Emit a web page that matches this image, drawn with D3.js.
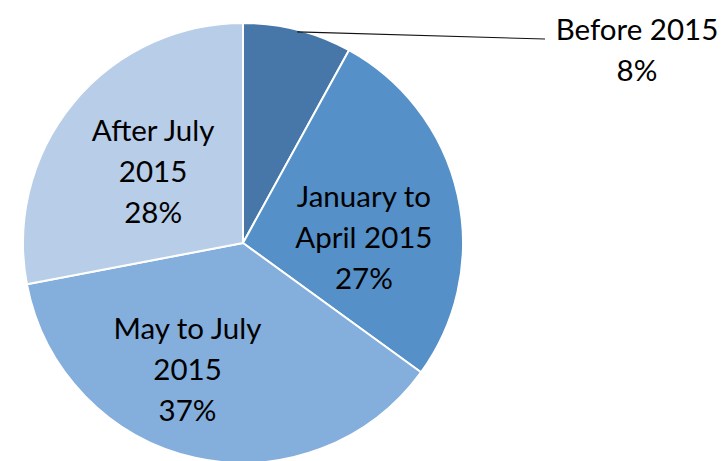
<!DOCTYPE html>
<html><head><meta charset="utf-8">
<script src="https://cdn.jsdelivr.net/npm/d3@7"></script>
<style>html,body{margin:0;padding:0;background:#fff;}svg{display:block;}</style>
</head><body>
<svg id="chart" width="725" height="461"></svg>
<script>
const categories = ["Before 2015", "January to April 2015", "May to July 2015", "After July 2015"];
const values = [8, 27, 37, 28];
const labelLines = [["Before 2015", "8%"], ["January to", "April 2015", "27%"], ["May to July", "2015", "37%"], ["After July", "2015", "28%"]];
const colors = ["#4677a8", "#5590c8", "#84aedc", "#b8cde7"];

const svg = d3.select("#chart");
const cx = 243, cy = 243, R = 220;
const g = svg.append("g").attr("transform", `translate(${cx},${cy})`);

const pie = d3.pie().sort(null).value(d => d)(values);
const arc = d3.arc().innerRadius(0).outerRadius(R);

g.selectAll("path.slice").data(pie).join("path")
  .attr("class", "slice")
  .attr("d", arc)
  .attr("fill", (d, i) => colors[i])
  .attr("stroke", "#fff").attr("stroke-width", 2).attr("stroke-linejoin", "round");

// label placement (style): radius as fraction of R and angle nudge in degrees
const labelR = [null, 0.55, 0.63, 0.523];
const labelNudge = [0, 10, 11, -1];
const fontSize = 29.5, lineH = 41;

pie.forEach((d, i) => {
  let x, y;
  const mid = (d.startAngle + d.endAngle) / 2;
  if (i === 0) {
    const p = [Math.sin(mid) * (R - 2), -Math.cos(mid) * (R - 2)];
    const ex = 545 - cx, ey = 39 - cy;
    g.append("line").attr("x1", p[0]).attr("y1", p[1]).attr("x2", ex).attr("y2", ey)
      .attr("stroke", "#111").attr("stroke-width", 1.1);
    x = 637 - cx; y = 50 - cy;
  } else {
    const a = mid + labelNudge[i] * Math.PI / 180;
    const r = R * labelR[i];
    x = Math.sin(a) * r; y = -Math.cos(a) * r;
  }
  const lines = labelLines[i];
  const t = g.append("text").attr("text-anchor", "middle")
    .attr("font-family", "Lato, 'Open Sans', sans-serif").attr("font-size", fontSize)
    .attr("fill", "#000");
  const y0 = y - (lines.length - 1) * lineH / 2 + fontSize * 0.35;
  lines.forEach((ln, k) => t.append("tspan").attr("x", x).attr("y", y0 + k * lineH).text(ln));
});
</script>
</body></html>
